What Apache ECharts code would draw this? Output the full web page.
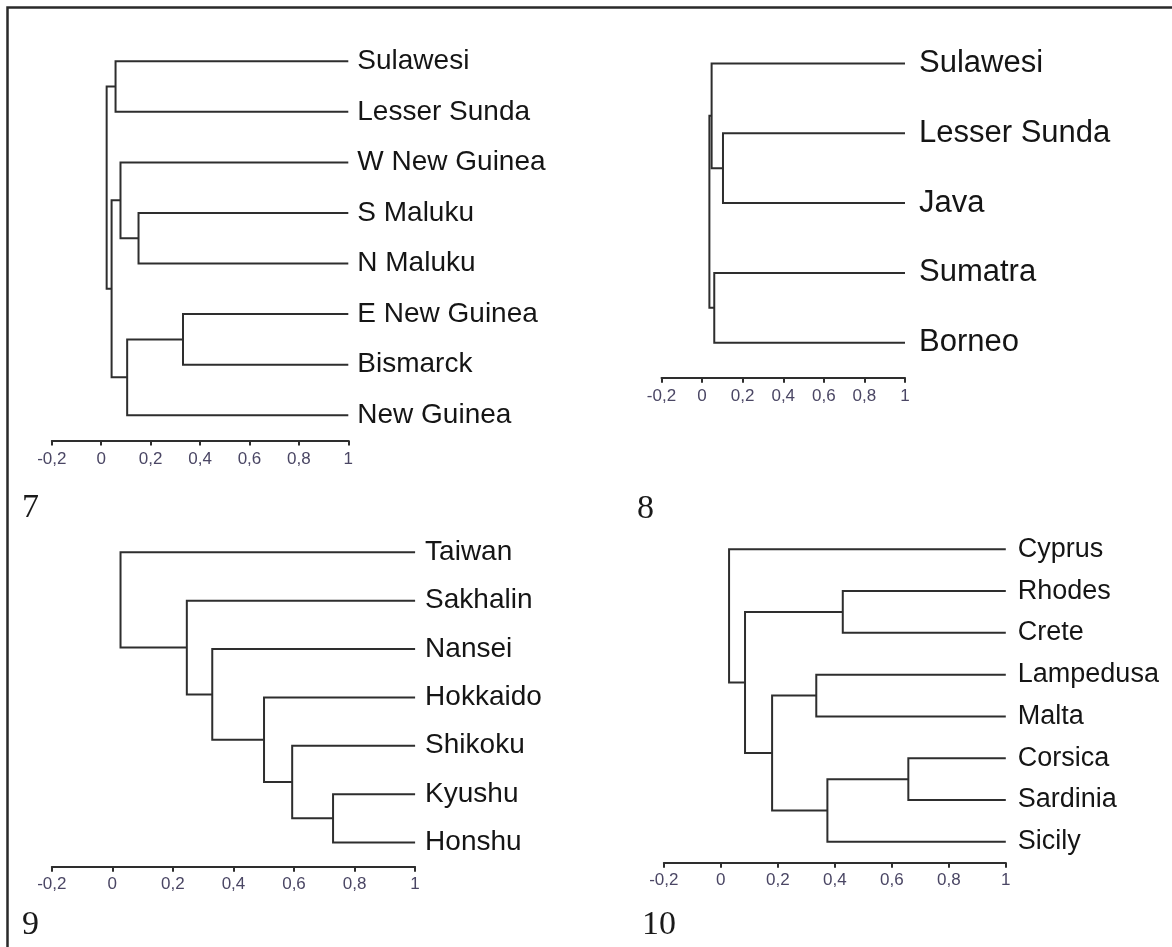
<!DOCTYPE html>
<html>
<head>
<meta charset="utf-8">
<script src="https://cdn.jsdelivr.net/npm/echarts@6/dist/echarts.min.js"></script>
<style>
  html, body { margin: 0; padding: 0; background: #fff; }
  #main { width: 1172px; height: 947px; }
</style>
</head>
<body>
<div id="main"></div>
<script>
// leaves top to bottom, merges as [childA, childB, similarity]
// child index < n is a leaf, otherwise merge number (n + k)
const leaves7 = ["Sulawesi", "Lesser Sunda", "W New Guinea", "S Maluku", "N Maluku", "E New Guinea", "Bismarck", "New Guinea"];
const merges7 = [[0, 1, 0.058], [3, 4, 0.151], [2, 9, 0.078], [5, 6, 0.331], [11, 7, 0.105], [10, 12, 0.042], [8, 13, 0.022]];

const leaves8 = ["Sulawesi", "Lesser Sunda", "Java", "Sumatra", "Borneo"];
const merges8 = [[1, 2, 0.103], [0, 5, 0.047], [3, 4, 0.060], [6, 7, 0.036]];

const leaves9 = ["Taiwan", "Sakhalin", "Nansei", "Hokkaido", "Shikoku", "Kyushu", "Honshu"];
const merges9 = [[5, 6, 0.729], [4, 7, 0.594], [3, 8, 0.501], [2, 9, 0.330], [1, 10, 0.246], [0, 11, 0.027]];

const leaves10 = ["Cyprus", "Rhodes", "Crete", "Lampedusa", "Malta", "Corsica", "Sardinia", "Sicily"];
const merges10 = [[1, 2, 0.428], [3, 4, 0.335], [5, 6, 0.658], [10, 7, 0.374], [9, 11, 0.180], [8, 12, 0.085], [0, 13, 0.029]];

const axisMin = -0.2, axisMax = 1, axisStep = 0.2;
const panelNames = ["7", "8", "9", "10"];

const textFont = "'Liberation Sans', Arial, sans-serif";

const panels = [
  { leaves: leaves7, merges: merges7, grid: { left: 51.8, top: 36, width: 296.5, height: 404.5 }, font: 28, gap: 9, labelMargin: 10 },
  { leaves: leaves8, merges: merges8, grid: { left: 661.5, top: 28.5, width: 243.5, height: 349.2 }, font: 31, gap: 14, labelMargin: 10 },
  { leaves: leaves9, merges: merges9, grid: { left: 51.8, top: 528.1, width: 363.3, height: 338.6 }, font: 28, gap: 10, labelMargin: 9 },
  { leaves: leaves10, merges: merges10, grid: { left: 663.8, top: 528.4, width: 342, height: 334.3 }, font: 27, gap: 12, labelMargin: 9 }
];

// turn merges into segments [xA, yA, h, yB, xB]
function segments(leaves, merges) {
  const pos = leaves.map((l, i) => [axisMax, i]);
  const out = [];
  merges.forEach(m => {
    const a = pos[m[0]], b = pos[m[1]];
    out.push([a[0], a[1], m[2], b[1], b[0]]);
    pos.push([m[2], (a[1] + b[1]) / 2]);
  });
  return out;
}

const lineColor = "#2e2e2e";
const grids = [], xAxes = [], yAxes = [], series = [];

panels.forEach((p, i) => {
  grids.push(Object.assign({ outerBoundsMode: "none", containLabel: false }, p.grid));
  xAxes.push({
    type: "value", gridIndex: i, position: "bottom", min: axisMin, max: axisMax, interval: axisStep,
    splitLine: { show: false },
    axisLine: { show: true, onZero: false, lineStyle: { color: lineColor, width: 2 } },
    axisTick: { show: true, length: 5, lineStyle: { color: lineColor, width: 2 } },
    axisLabel: {
      margin: p.labelMargin, fontSize: 17, fontFamily: textFont,
      color: v => (v === 1 ? "#3556a6" : "#4a4664"),
      formatter: v => String(Math.round(v * 10) / 10).replace(".", ",")
    }
  });
  yAxes.push({
    type: "value", gridIndex: i, show: false, inverse: true,
    min: -0.5, max: p.leaves.length - 0.5
  });
  yAxes.push({
    type: "category", gridIndex: i, position: "right", inverse: true,
    data: p.leaves,
    axisLine: { show: false }, axisTick: { show: false }, splitLine: { show: false },
    axisLabel: { interval: 0, margin: p.gap, fontSize: p.font, fontFamily: textFont, color: "#151515" }
  });
  series.push({
    type: "custom",
    xAxisIndex: i,
    yAxisIndex: i * 2,
    data: segments(p.leaves, p.merges),
    silent: true,
    renderItem: (params, api) => {
      const pts = [
        api.coord([api.value(0), api.value(1)]),
        api.coord([api.value(2), api.value(1)]),
        api.coord([api.value(2), api.value(3)]),
        api.coord([api.value(4), api.value(3)])
      ];
      return { type: "polyline", shape: { points: pts }, style: { stroke: lineColor, lineWidth: 2, fill: null } };
    }
  });
});

const numberPos = [[22, 508], [637, 509], [22, 925], [642, 925]];
const graphics = [
  { type: "polyline", shape: { points: [[7.5, 947], [7.5, 7.5], [1172, 7.5]] }, style: { stroke: "#2a2a2a", lineWidth: 2.5, fill: null } }
];
panelNames.forEach((t, i) => {
  graphics.push({
    type: "text", left: numberPos[i][0], top: numberPos[i][1] - 17,
    style: { text: t, font: "34px 'Liberation Serif', 'Times New Roman', serif", fill: "#1a1a1a" }
  });
});

const chart = echarts.init(document.getElementById("main"));
chart.setOption({
  animation: false,
  backgroundColor: "#fff",
  grid: grids,
  xAxis: xAxes,
  yAxis: yAxes,
  series: series,
  graphic: graphics
});
</script>
</body>
</html>
